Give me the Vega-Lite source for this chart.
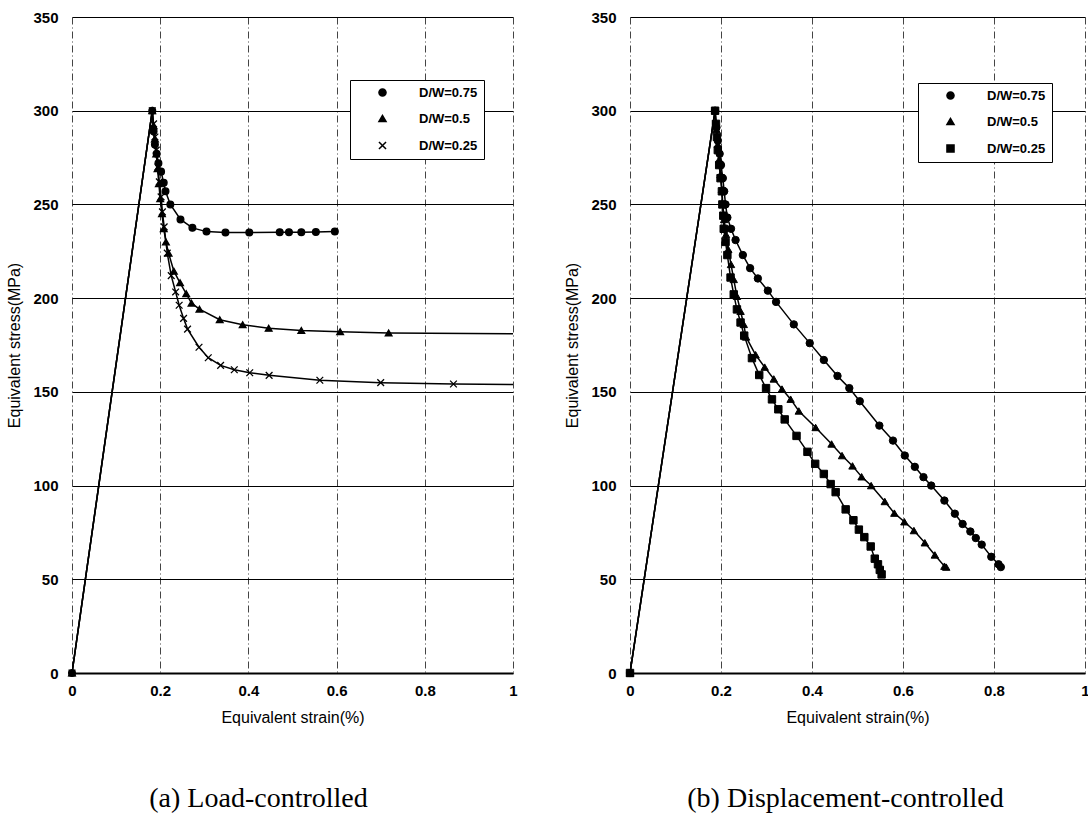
{
  "$schema": "https://vega.github.io/schema/vega-lite/v6.json",
  "background": "white",
  "padding": {"left": 6, "top": 10, "right": 0, "bottom": 0},
  "spacing": 117,
  "bounds": "flush",
  "config": {
    "view": {"stroke": null},
    "axis": {"labelFont": "Liberation Sans", "labelFontSize": 15, "labelFontWeight": "bold", "labelColor": "black", "titleFont": "Liberation Sans", "titleFontSize": 16, "titleFontWeight": "normal", "titleColor": "black", "ticks": false, "gridOpacity": 1},
    "axisX": {"gridDash": [7, 3, 1, 3], "gridColor": "#444444", "gridWidth": 1, "domainColor": "black", "domainWidth": 2, "labelPadding": 10, "titlePadding": 11, "labelFlush": false},
    "axisY": {"gridColor": "black", "gridWidth": 1.2, "domain": false, "labelPadding": 14, "titlePadding": 10}
  },
  "resolve": {"scale": {"shape": "independent", "x": "independent", "y": "independent"}, "legend": {"shape": "independent"}},
  "datasets": {
    "a": [
      {"series": "D/W=0.75", "i": 0, "strain": 0, "stress": 0},
      {"series": "D/W=0.75", "i": 1, "strain": 0.182, "stress": 300},
      {"series": "D/W=0.75", "i": 2, "strain": 0.185, "stress": 289},
      {"series": "D/W=0.75", "i": 3, "strain": 0.188, "stress": 282},
      {"series": "D/W=0.75", "i": 4, "strain": 0.192, "stress": 277},
      {"series": "D/W=0.75", "i": 5, "strain": 0.196, "stress": 272},
      {"series": "D/W=0.75", "i": 6, "strain": 0.202, "stress": 267.5},
      {"series": "D/W=0.75", "i": 7, "strain": 0.208, "stress": 261.5},
      {"series": "D/W=0.75", "i": 8, "strain": 0.212, "stress": 257},
      {"series": "D/W=0.75", "i": 9, "strain": 0.223, "stress": 250},
      {"series": "D/W=0.75", "i": 10, "strain": 0.246, "stress": 242},
      {"series": "D/W=0.75", "i": 11, "strain": 0.273, "stress": 237.5},
      {"series": "D/W=0.75", "i": 12, "strain": 0.305, "stress": 235.5},
      {"series": "D/W=0.75", "i": 13, "strain": 0.348, "stress": 235},
      {"series": "D/W=0.75", "i": 14, "strain": 0.402, "stress": 235},
      {"series": "D/W=0.75", "i": 15, "strain": 0.471, "stress": 235.2},
      {"series": "D/W=0.75", "i": 16, "strain": 0.492, "stress": 235.2},
      {"series": "D/W=0.75", "i": 17, "strain": 0.52, "stress": 235.2},
      {"series": "D/W=0.75", "i": 18, "strain": 0.553, "stress": 235.3},
      {"series": "D/W=0.75", "i": 19, "strain": 0.596, "stress": 235.6},
      {"series": "D/W=0.5", "i": 0, "strain": 0, "stress": 0},
      {"series": "D/W=0.5", "i": 1, "strain": 0.182, "stress": 300},
      {"series": "D/W=0.5", "i": 2, "strain": 0.185, "stress": 292},
      {"series": "D/W=0.5", "i": 3, "strain": 0.188, "stress": 285},
      {"series": "D/W=0.5", "i": 4, "strain": 0.191, "stress": 277},
      {"series": "D/W=0.5", "i": 5, "strain": 0.194, "stress": 269},
      {"series": "D/W=0.5", "i": 6, "strain": 0.197, "stress": 261},
      {"series": "D/W=0.5", "i": 7, "strain": 0.2, "stress": 253},
      {"series": "D/W=0.5", "i": 8, "strain": 0.204, "stress": 245},
      {"series": "D/W=0.5", "i": 9, "strain": 0.208, "stress": 237},
      {"series": "D/W=0.5", "i": 10, "strain": 0.213, "stress": 230},
      {"series": "D/W=0.5", "i": 11, "strain": 0.219, "stress": 224},
      {"series": "D/W=0.5", "i": 12, "strain": 0.231, "stress": 214.4},
      {"series": "D/W=0.5", "i": 13, "strain": 0.245, "stress": 208.2},
      {"series": "D/W=0.5", "i": 14, "strain": 0.259, "stress": 202.4},
      {"series": "D/W=0.5", "i": 15, "strain": 0.271, "stress": 197.3},
      {"series": "D/W=0.5", "i": 16, "strain": 0.289, "stress": 194.1},
      {"series": "D/W=0.5", "i": 17, "strain": 0.335, "stress": 188.5},
      {"series": "D/W=0.5", "i": 18, "strain": 0.387, "stress": 185.8},
      {"series": "D/W=0.5", "i": 19, "strain": 0.446, "stress": 183.9},
      {"series": "D/W=0.5", "i": 20, "strain": 0.52, "stress": 182.8},
      {"series": "D/W=0.5", "i": 21, "strain": 0.608, "stress": 182.1},
      {"series": "D/W=0.5", "i": 22, "strain": 0.718, "stress": 181.4},
      {"series": "D/W=0.5", "i": 23, "strain": 1.0, "stress": 181},
      {"series": "D/W=0.25", "i": 0, "strain": 0, "stress": 0},
      {"series": "D/W=0.25", "i": 1, "strain": 0.182, "stress": 300},
      {"series": "D/W=0.25", "i": 2, "strain": 0.185, "stress": 293},
      {"series": "D/W=0.25", "i": 3, "strain": 0.188, "stress": 286},
      {"series": "D/W=0.25", "i": 4, "strain": 0.191, "stress": 279},
      {"series": "D/W=0.25", "i": 5, "strain": 0.195, "stress": 270},
      {"series": "D/W=0.25", "i": 6, "strain": 0.198, "stress": 262},
      {"series": "D/W=0.25", "i": 7, "strain": 0.202, "stress": 254},
      {"series": "D/W=0.25", "i": 8, "strain": 0.205, "stress": 246},
      {"series": "D/W=0.25", "i": 9, "strain": 0.209, "stress": 238},
      {"series": "D/W=0.25", "i": 10, "strain": 0.216, "stress": 224},
      {"series": "D/W=0.25", "i": 11, "strain": 0.225, "stress": 212},
      {"series": "D/W=0.25", "i": 12, "strain": 0.235, "stress": 203.3},
      {"series": "D/W=0.25", "i": 13, "strain": 0.243, "stress": 196.2},
      {"series": "D/W=0.25", "i": 14, "strain": 0.253, "stress": 189.2},
      {"series": "D/W=0.25", "i": 15, "strain": 0.262, "stress": 183.5},
      {"series": "D/W=0.25", "i": 16, "strain": 0.288, "stress": 173.8},
      {"series": "D/W=0.25", "i": 17, "strain": 0.309, "stress": 168.2},
      {"series": "D/W=0.25", "i": 18, "strain": 0.337, "stress": 164.1},
      {"series": "D/W=0.25", "i": 19, "strain": 0.368, "stress": 161.8},
      {"series": "D/W=0.25", "i": 20, "strain": 0.403, "stress": 160.2},
      {"series": "D/W=0.25", "i": 21, "strain": 0.447, "stress": 158.8},
      {"series": "D/W=0.25", "i": 22, "strain": 0.562, "stress": 156.2},
      {"series": "D/W=0.25", "i": 23, "strain": 0.7, "stress": 154.9},
      {"series": "D/W=0.25", "i": 24, "strain": 0.865, "stress": 154.2},
      {"series": "D/W=0.25", "i": 25, "strain": 1.0, "stress": 153.9}
    ],
    "b": [
      {"series": "D/W=0.75", "i": 0, "strain": 0, "stress": 0},
      {"series": "D/W=0.75", "i": 1, "strain": 0.187, "stress": 300},
      {"series": "D/W=0.75", "i": 2, "strain": 0.19, "stress": 291},
      {"series": "D/W=0.75", "i": 3, "strain": 0.193, "stress": 284},
      {"series": "D/W=0.75", "i": 4, "strain": 0.197, "stress": 277},
      {"series": "D/W=0.75", "i": 5, "strain": 0.2, "stress": 271},
      {"series": "D/W=0.75", "i": 6, "strain": 0.204, "stress": 264},
      {"series": "D/W=0.75", "i": 7, "strain": 0.207, "stress": 257},
      {"series": "D/W=0.75", "i": 8, "strain": 0.21, "stress": 250},
      {"series": "D/W=0.75", "i": 9, "strain": 0.214, "stress": 243},
      {"series": "D/W=0.75", "i": 10, "strain": 0.222, "stress": 237},
      {"series": "D/W=0.75", "i": 11, "strain": 0.232, "stress": 231},
      {"series": "D/W=0.75", "i": 12, "strain": 0.248, "stress": 223},
      {"series": "D/W=0.75", "i": 13, "strain": 0.264, "stress": 216},
      {"series": "D/W=0.75", "i": 14, "strain": 0.281, "stress": 210.5},
      {"series": "D/W=0.75", "i": 15, "strain": 0.303, "stress": 204},
      {"series": "D/W=0.75", "i": 16, "strain": 0.321, "stress": 198},
      {"series": "D/W=0.75", "i": 17, "strain": 0.36, "stress": 186},
      {"series": "D/W=0.75", "i": 18, "strain": 0.395, "stress": 176},
      {"series": "D/W=0.75", "i": 19, "strain": 0.426, "stress": 167},
      {"series": "D/W=0.75", "i": 20, "strain": 0.456, "stress": 158.5},
      {"series": "D/W=0.75", "i": 21, "strain": 0.482, "stress": 152},
      {"series": "D/W=0.75", "i": 22, "strain": 0.505, "stress": 145},
      {"series": "D/W=0.75", "i": 23, "strain": 0.548, "stress": 132},
      {"series": "D/W=0.75", "i": 24, "strain": 0.578, "stress": 124},
      {"series": "D/W=0.75", "i": 25, "strain": 0.604, "stress": 116},
      {"series": "D/W=0.75", "i": 26, "strain": 0.626, "stress": 110},
      {"series": "D/W=0.75", "i": 27, "strain": 0.645, "stress": 104.5},
      {"series": "D/W=0.75", "i": 28, "strain": 0.662, "stress": 100},
      {"series": "D/W=0.75", "i": 29, "strain": 0.691, "stress": 92},
      {"series": "D/W=0.75", "i": 30, "strain": 0.714, "stress": 85},
      {"series": "D/W=0.75", "i": 31, "strain": 0.731, "stress": 79.5},
      {"series": "D/W=0.75", "i": 32, "strain": 0.748, "stress": 75.5},
      {"series": "D/W=0.75", "i": 33, "strain": 0.76, "stress": 72},
      {"series": "D/W=0.75", "i": 34, "strain": 0.773, "stress": 68.5},
      {"series": "D/W=0.75", "i": 35, "strain": 0.794, "stress": 62},
      {"series": "D/W=0.75", "i": 36, "strain": 0.81, "stress": 58},
      {"series": "D/W=0.75", "i": 37, "strain": 0.815, "stress": 56.5},
      {"series": "D/W=0.5", "i": 0, "strain": 0, "stress": 0},
      {"series": "D/W=0.5", "i": 1, "strain": 0.187, "stress": 300},
      {"series": "D/W=0.5", "i": 2, "strain": 0.19, "stress": 290},
      {"series": "D/W=0.5", "i": 3, "strain": 0.193, "stress": 282},
      {"series": "D/W=0.5", "i": 4, "strain": 0.196, "stress": 274},
      {"series": "D/W=0.5", "i": 5, "strain": 0.199, "stress": 266},
      {"series": "D/W=0.5", "i": 6, "strain": 0.202, "stress": 258},
      {"series": "D/W=0.5", "i": 7, "strain": 0.204, "stress": 250},
      {"series": "D/W=0.5", "i": 8, "strain": 0.207, "stress": 242},
      {"series": "D/W=0.5", "i": 9, "strain": 0.211, "stress": 234},
      {"series": "D/W=0.5", "i": 10, "strain": 0.216, "stress": 226},
      {"series": "D/W=0.5", "i": 11, "strain": 0.222, "stress": 218},
      {"series": "D/W=0.5", "i": 12, "strain": 0.228, "stress": 210},
      {"series": "D/W=0.5", "i": 13, "strain": 0.235, "stress": 201},
      {"series": "D/W=0.5", "i": 14, "strain": 0.243, "stress": 193},
      {"series": "D/W=0.5", "i": 15, "strain": 0.25, "stress": 186},
      {"series": "D/W=0.5", "i": 16, "strain": 0.255, "stress": 179.3},
      {"series": "D/W=0.5", "i": 17, "strain": 0.276, "stress": 169.8},
      {"series": "D/W=0.5", "i": 18, "strain": 0.296, "stress": 163.2},
      {"series": "D/W=0.5", "i": 19, "strain": 0.316, "stress": 156.9},
      {"series": "D/W=0.5", "i": 20, "strain": 0.334, "stress": 151.5},
      {"series": "D/W=0.5", "i": 21, "strain": 0.353, "stress": 146.1},
      {"series": "D/W=0.5", "i": 22, "strain": 0.371, "stress": 139.8},
      {"series": "D/W=0.5", "i": 23, "strain": 0.408, "stress": 131},
      {"series": "D/W=0.5", "i": 24, "strain": 0.443, "stress": 122.2},
      {"series": "D/W=0.5", "i": 25, "strain": 0.466, "stress": 116},
      {"series": "D/W=0.5", "i": 26, "strain": 0.489, "stress": 110.5},
      {"series": "D/W=0.5", "i": 27, "strain": 0.509, "stress": 104.7},
      {"series": "D/W=0.5", "i": 28, "strain": 0.53, "stress": 100},
      {"series": "D/W=0.5", "i": 29, "strain": 0.56, "stress": 91.5},
      {"series": "D/W=0.5", "i": 30, "strain": 0.581, "stress": 85.3},
      {"series": "D/W=0.5", "i": 31, "strain": 0.603, "stress": 80.7},
      {"series": "D/W=0.5", "i": 32, "strain": 0.624, "stress": 76},
      {"series": "D/W=0.5", "i": 33, "strain": 0.648, "stress": 69.5},
      {"series": "D/W=0.5", "i": 34, "strain": 0.67, "stress": 63},
      {"series": "D/W=0.5", "i": 35, "strain": 0.691, "stress": 57},
      {"series": "D/W=0.5", "i": 36, "strain": 0.695, "stress": 56.5},
      {"series": "D/W=0.25", "i": 0, "strain": 0, "stress": 0},
      {"series": "D/W=0.25", "i": 1, "strain": 0.187, "stress": 300},
      {"series": "D/W=0.25", "i": 2, "strain": 0.189, "stress": 293},
      {"series": "D/W=0.25", "i": 3, "strain": 0.191, "stress": 286},
      {"series": "D/W=0.25", "i": 4, "strain": 0.193, "stress": 279},
      {"series": "D/W=0.25", "i": 5, "strain": 0.196, "stress": 271},
      {"series": "D/W=0.25", "i": 6, "strain": 0.199, "stress": 264},
      {"series": "D/W=0.25", "i": 7, "strain": 0.202, "stress": 257},
      {"series": "D/W=0.25", "i": 8, "strain": 0.203, "stress": 250},
      {"series": "D/W=0.25", "i": 9, "strain": 0.205, "stress": 244},
      {"series": "D/W=0.25", "i": 10, "strain": 0.206, "stress": 237},
      {"series": "D/W=0.25", "i": 11, "strain": 0.21, "stress": 230},
      {"series": "D/W=0.25", "i": 12, "strain": 0.214, "stress": 223},
      {"series": "D/W=0.25", "i": 13, "strain": 0.221, "stress": 211},
      {"series": "D/W=0.25", "i": 14, "strain": 0.228, "stress": 202},
      {"series": "D/W=0.25", "i": 15, "strain": 0.235, "stress": 194},
      {"series": "D/W=0.25", "i": 16, "strain": 0.243, "stress": 187},
      {"series": "D/W=0.25", "i": 17, "strain": 0.251, "stress": 180},
      {"series": "D/W=0.25", "i": 18, "strain": 0.268, "stress": 168},
      {"series": "D/W=0.25", "i": 19, "strain": 0.284, "stress": 159},
      {"series": "D/W=0.25", "i": 20, "strain": 0.299, "stress": 152},
      {"series": "D/W=0.25", "i": 21, "strain": 0.312, "stress": 146},
      {"series": "D/W=0.25", "i": 22, "strain": 0.326, "stress": 140.7},
      {"series": "D/W=0.25", "i": 23, "strain": 0.34, "stress": 135.3},
      {"series": "D/W=0.25", "i": 24, "strain": 0.366, "stress": 126.5},
      {"series": "D/W=0.25", "i": 25, "strain": 0.39, "stress": 118},
      {"series": "D/W=0.25", "i": 26, "strain": 0.407, "stress": 111.6},
      {"series": "D/W=0.25", "i": 27, "strain": 0.426, "stress": 106.2},
      {"series": "D/W=0.25", "i": 28, "strain": 0.441, "stress": 100.8},
      {"series": "D/W=0.25", "i": 29, "strain": 0.452, "stress": 96.5},
      {"series": "D/W=0.25", "i": 30, "strain": 0.474, "stress": 87.3},
      {"series": "D/W=0.25", "i": 31, "strain": 0.491, "stress": 81.5},
      {"series": "D/W=0.25", "i": 32, "strain": 0.503, "stress": 76.5},
      {"series": "D/W=0.25", "i": 33, "strain": 0.515, "stress": 72.5},
      {"series": "D/W=0.25", "i": 34, "strain": 0.529, "stress": 67.5},
      {"series": "D/W=0.25", "i": 35, "strain": 0.538, "stress": 61},
      {"series": "D/W=0.25", "i": 36, "strain": 0.545, "stress": 58},
      {"series": "D/W=0.25", "i": 37, "strain": 0.549, "stress": 55},
      {"series": "D/W=0.25", "i": 38, "strain": 0.553, "stress": 52.6}
    ]
  },
  "hconcat": [
    {
      "width": 441,
      "height": 656,
      "data": {"name": "a"},
      "title": {"text": "(a) Load-controlled", "orient": "bottom", "anchor": "middle", "dx": -34, "offset": 60, "font": "Liberation Serif", "fontSize": 28, "fontWeight": "normal", "color": "black"},
      "encoding": {
        "x": {"field": "strain", "type": "quantitative", "scale": {"domain": [0, 1], "nice": false}, "axis": {"title": "Equivalent strain(%)", "values": [0, 0.2, 0.4, 0.6, 0.8, 1], "format": "~g"}},
        "y": {"field": "stress", "type": "quantitative", "scale": {"domain": [0, 350], "nice": false}, "axis": {"title": "Equivalent stress(MPa)", "values": [0, 50, 100, 150, 200, 250, 300, 350]}}
      },
      "layer": [
        {
          "mark": {"type": "line", "color": "black", "strokeWidth": 1.5, "clip": true},
          "encoding": {"detail": {"field": "series", "type": "nominal"}, "order": {"field": "i", "type": "quantitative"}}
        },
        {
          "transform": [{"filter": "datum.strain < 1"}],
          "mark": {"type": "point", "filled": true, "color": "black", "stroke": "black", "strokeWidth": 1.3, "size": 45, "opacity": 1, "clip": false},
          "encoding": {
            "shape": {
              "field": "series", "type": "nominal",
              "scale": {"domain": ["D/W=0.75", "D/W=0.5", "D/W=0.25"], "range": ["circle", "triangle-up", "M-1,-1L1,1M-1,1L1,-1"]},
              "legend": {
                "title": null, "orient": "none", "legendX": 278, "legendY": 63,
                "strokeColor": "black", "fillColor": "white", "padding": 6, "cornerRadius": 0,
                "symbolSize": 50, "symbolOffset": 20, "labelOffset": 30, "rowPadding": 12,
                "labelFont": "Liberation Sans", "labelFontSize": 13, "labelFontWeight": "bold", "labelColor": "black",
                "encode": {"symbols": {"stroke": {"value": "black"}, "strokeWidth": {"value": 1.3}}}
              }
            }
          }
        }
      ]
    },
    {
      "width": 455,
      "height": 656,
      "data": {"name": "b"},
      "title": {"text": "(b) Displacement-controlled", "orient": "bottom", "anchor": "middle", "dx": -12, "offset": 60, "font": "Liberation Serif", "fontSize": 28, "fontWeight": "normal", "color": "black"},
      "encoding": {
        "x": {"field": "strain", "type": "quantitative", "scale": {"domain": [0, 1], "nice": false}, "axis": {"title": "Equivalent strain(%)", "values": [0, 0.2, 0.4, 0.6, 0.8, 1], "format": "~g"}},
        "y": {"field": "stress", "type": "quantitative", "scale": {"domain": [0, 350], "nice": false}, "axis": {"title": "Equivalent stress(MPa)", "values": [0, 50, 100, 150, 200, 250, 300, 350]}}
      },
      "layer": [
        {
          "mark": {"type": "line", "color": "black", "strokeWidth": 1.5, "clip": true},
          "encoding": {"detail": {"field": "series", "type": "nominal"}, "order": {"field": "i", "type": "quantitative"}}
        },
        {
          "mark": {"type": "point", "filled": true, "color": "black", "stroke": "black", "strokeWidth": 1, "size": 55, "opacity": 1, "clip": false},
          "encoding": {
            "shape": {
              "field": "series", "type": "nominal",
              "scale": {"domain": ["D/W=0.75", "D/W=0.5", "D/W=0.25"], "range": ["circle", "triangle-up", "square"]},
              "legend": {
                "title": null, "orient": "none", "legendX": 288, "legendY": 66,
                "strokeColor": "black", "fillColor": "white", "padding": 6, "cornerRadius": 0,
                "symbolSize": 50, "symbolOffset": 20, "labelOffset": 30, "rowPadding": 12,
                "labelFont": "Liberation Sans", "labelFontSize": 13, "labelFontWeight": "bold", "labelColor": "black",
                "encode": {"symbols": {"stroke": {"value": "black"}, "strokeWidth": {"value": 1.2}}}
              }
            }
          }
        }
      ]
    }
  ]
}
